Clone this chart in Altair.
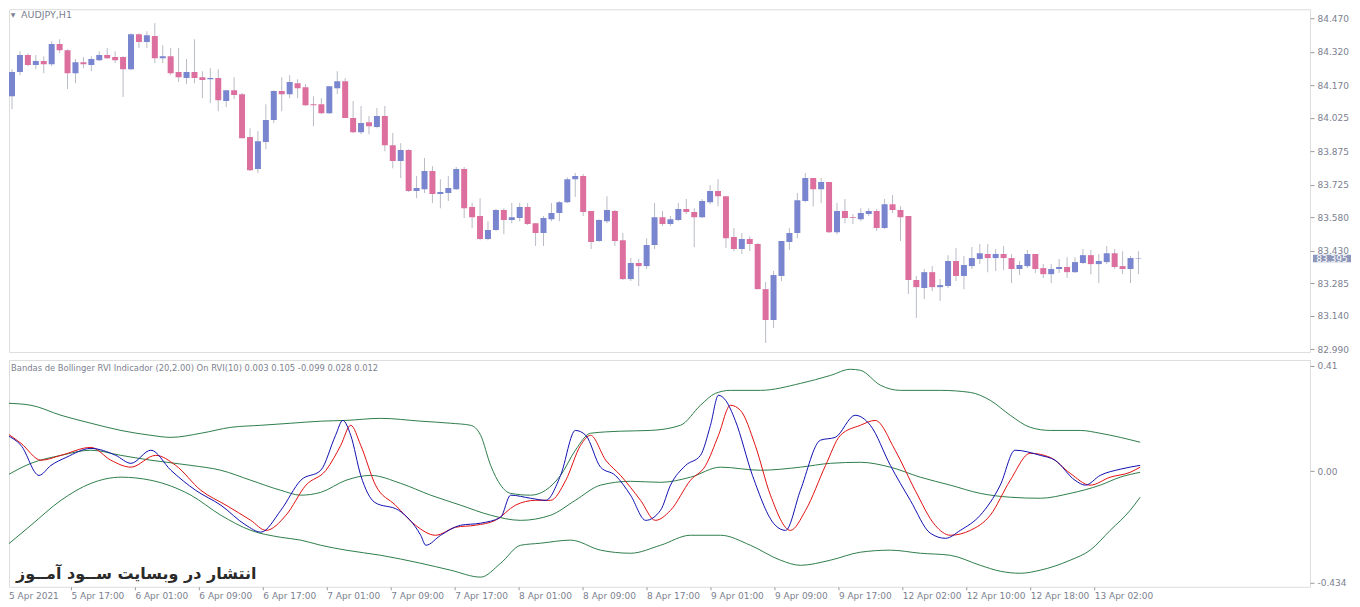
import json
import altair as alt
import pandas as pd

# ---------------- data ----------------
OPEN = [84.121,84.229,84.305,84.260,84.278,84.264,84.354,84.327,84.224,84.273,
        84.260,84.282,84.305,84.296,84.296,84.242,84.398,84.363,84.390,84.291,
        84.300,84.229,84.202,84.229,84.206,84.197,84.202,84.099,84.148,84.130,
        83.938,83.795,83.916,84.014,84.144,84.130,84.179,84.161,84.085,84.085,
        84.045,84.157,84.188,84.023,83.960,84.005,83.983,84.032,83.902,83.831,
        83.880,83.697,83.705,83.786,83.683,83.688,83.705,83.795,83.625,83.585,
        83.482,83.522,83.612,83.567,83.576,83.625,83.553,83.509,83.571,83.598,
        83.647,83.750,83.764,83.607,83.473,83.562,83.607,83.477,83.303,83.375,
        83.361,83.455,83.580,83.549,83.567,83.616,83.603,83.580,83.647,83.697,
        83.674,83.491,83.437,83.482,83.460,83.258,83.120,83.317,83.469,83.509,
        83.652,83.755,83.705,83.737,83.513,83.607,83.580,83.571,83.594,83.607,
        83.531,83.638,83.612,83.585,83.299,83.263,83.334,83.267,83.272,83.384,
        83.317,83.361,83.393,83.415,83.397,83.415,83.397,83.348,83.361,83.415,
        83.352,83.325,83.348,83.357,83.334,83.375,83.410,83.370,83.379,83.419,
        83.361,83.348,83.393]
CLOSE = [84.229,84.305,84.260,84.278,84.264,84.354,84.327,84.224,84.273,84.264,
         84.287,84.305,84.291,84.282,84.242,84.398,84.363,84.394,84.291,84.300,
         84.224,84.206,84.229,84.202,84.193,84.202,84.103,84.148,84.126,83.933,
         83.790,83.920,84.014,84.144,84.130,84.184,84.157,84.081,84.081,84.045,
         84.166,84.188,84.023,83.960,84.001,83.987,84.032,83.902,83.831,83.880,
         83.697,83.710,83.786,83.683,83.692,83.710,83.795,83.620,83.580,83.482,
         83.522,83.612,83.567,83.580,83.625,83.549,83.509,83.576,83.598,83.647,
         83.750,83.764,83.603,83.469,83.567,83.612,83.473,83.303,83.375,83.361,
         83.455,83.580,83.549,83.571,83.616,83.603,83.580,83.652,83.697,83.674,
         83.486,83.437,83.482,83.460,83.258,83.120,83.321,83.473,83.509,83.656,
         83.755,83.705,83.737,83.513,83.607,83.576,83.576,83.598,83.607,83.531,
         83.638,83.612,83.580,83.299,83.267,83.334,83.267,83.276,83.384,83.317,
         83.366,83.397,83.419,83.397,83.415,83.397,83.348,83.366,83.415,83.348,
         83.325,83.348,83.357,83.334,83.379,83.410,83.370,83.384,83.419,83.357,
         83.348,83.397,83.395]
HIGH = [84.242,84.322,84.313,84.305,84.300,84.367,84.376,84.331,84.287,84.296,
        84.300,84.322,84.336,84.322,84.300,84.403,84.403,84.412,84.448,84.349,
        84.336,84.336,84.287,84.376,84.233,84.246,84.242,84.148,84.206,84.135,
        83.978,83.965,84.085,84.148,84.206,84.215,84.197,84.175,84.121,84.112,
        84.166,84.233,84.202,84.099,84.077,84.032,84.068,84.077,83.956,83.911,
        83.884,83.764,83.844,83.808,83.750,83.764,83.804,83.804,83.643,83.665,
        83.562,83.616,83.620,83.643,83.643,83.643,83.553,83.585,83.643,83.652,
        83.759,83.777,83.773,83.607,83.571,83.674,83.612,83.509,83.397,83.393,
        83.486,83.643,83.607,83.585,83.643,83.661,83.620,83.661,83.723,83.750,
        83.674,83.531,83.509,83.495,83.464,83.290,83.339,83.473,83.531,83.688,
        83.777,83.755,83.755,83.737,83.643,83.661,83.594,83.620,83.620,83.616,
        83.661,83.679,83.629,83.585,83.317,83.348,83.361,83.303,83.410,83.442,
        83.406,83.446,83.460,83.460,83.437,83.451,83.415,83.384,83.433,83.415,
        83.370,83.370,83.393,83.401,83.401,83.437,83.433,83.415,83.451,83.437,
        83.428,83.406,83.428]
LOW = [84.063,84.215,84.255,84.242,84.224,84.255,84.313,84.153,84.179,84.246,
       84.233,84.278,84.287,84.269,84.117,84.237,84.336,84.336,84.269,84.269,
       84.215,84.184,84.175,84.179,84.112,84.090,84.054,84.072,84.108,83.933,
       83.786,83.777,83.884,84.001,84.054,84.112,84.112,84.077,83.987,84.041,
       84.041,84.130,84.023,83.956,83.951,83.951,83.978,83.875,83.799,83.755,
       83.692,83.665,83.688,83.643,83.620,83.652,83.701,83.576,83.531,83.477,
       83.477,83.518,83.504,83.553,83.562,83.545,83.451,83.451,83.562,83.562,
       83.643,83.670,83.585,83.437,83.469,83.553,83.451,83.299,83.294,83.272,
       83.348,83.437,83.540,83.540,83.562,83.594,83.446,83.576,83.638,83.629,
       83.442,83.428,83.415,83.428,83.258,83.017,83.084,83.294,83.433,83.486,
       83.647,83.629,83.643,83.509,83.504,83.553,83.549,83.562,83.585,83.518,
       83.527,83.598,83.473,83.236,83.129,83.214,83.249,83.205,83.263,83.294,
       83.258,83.348,83.370,83.334,83.339,83.343,83.285,83.321,83.352,83.330,
       83.308,83.285,83.330,83.308,83.330,83.370,83.325,83.285,83.370,83.348,
       83.325,83.285,83.325]

RVI_I = [0,1.75,4,5.5,7.4,10.5,13.6,15.5,18,20.5,23.6,26.75,29.9,31.75,34.25,36.75,39.25,41.1,42,43,
         44.25,46,49,51.75,52.4,54.25,56.75,59.25,61.75,63,65.5,67.4,69.25,71.1,72.4,74.25,76.1,78,79.9,81.75,
         83,84.9,86.75,88,89,89.9,91.1,93.25,96.1,97.4,99.25,101.75,103.6,106.1,108,110.5,113,115.5,117.4,119.25,
         121.75,124.25,126.1,129.25,131.1,133.6,134.9,136.75,139.25,141.75]
RVI_V = [0.140,0.101,-0.016,0.023,0.054,0.089,0.062,0.031,0.082,0.004,-0.074,-0.132,-0.210,-0.237,-0.152,-0.035,0.004,0.140,0.198,0.140,
         -0.016,-0.121,-0.152,-0.249,-0.288,-0.249,-0.210,-0.202,-0.179,-0.093,-0.105,-0.113,-0.016,0.159,0.140,0.016,-0.016,-0.093,-0.191,-0.152,
         -0.054,0.023,0.062,0.179,0.296,0.276,0.198,-0.016,-0.210,-0.230,-0.074,0.121,0.132,0.218,0.179,0.023,-0.113,-0.241,-0.261,-0.230,
         -0.171,-0.054,0.082,0.062,0.043,-0.035,-0.054,-0.016,0.008,0.023]
SIG_I = [0,1.75,4.25,6.75,10.5,13,15.5,18.6,21.1,24.25,27.4,30.5,32.4,34.9,37.4,39.9,41.75,43,44.25,46.1,
         48.6,51.1,53.6,56.1,58.6,61.1,63.6,66.1,68,69.9,71.75,73,74.9,76.75,79.25,81.1,83,85.5,87.4,89,
         90.5,91.75,93.6,95.5,98,99.9,102.4,104.25,106.75,108.6,111.1,113.6,116.1,118,120.5,123,125.5,128,130.5,133,
         135.5,138,140.5,141.75]
SIG_V = [0.148,0.109,0.043,0.062,0.093,0.043,0.016,0.062,0.023,-0.074,-0.132,-0.191,-0.230,-0.171,-0.054,0.004,0.101,0.179,0.101,-0.054,
         -0.132,-0.210,-0.249,-0.218,-0.210,-0.191,-0.132,-0.113,-0.113,-0.035,0.101,0.140,0.043,-0.016,-0.113,-0.191,-0.152,-0.035,0.023,0.140,
         0.257,0.237,0.101,-0.093,-0.230,-0.152,0.023,0.140,0.179,0.198,0.082,-0.074,-0.210,-0.249,-0.230,-0.171,-0.035,0.070,0.054,-0.008,
         -0.054,-0.023,-0.004,0.016]
UP_I = [0,3,6.75,10.5,14.25,18,20.5,24.25,28,31.75,35.5,39.25,42.4,46.75,51.75,55.5,58,59.25,60.5,61.75,
        63,65.5,69.25,71.1,73,76.75,80.5,84.25,86.75,88.6,90.5,94.25,99.25,103,105.5,106.75,109.25,111.75,116.75,120.5,
        123,125.5,128,130.5,134.25,136.75,139.25,141.75]
UP_V = [0.265,0.257,0.218,0.187,0.159,0.140,0.132,0.148,0.171,0.179,0.187,0.195,0.198,0.206,0.195,0.187,0.179,0.140,0.023,-0.054,
        -0.086,-0.093,-0.016,0.082,0.148,0.156,0.159,0.179,0.257,0.303,0.315,0.315,0.342,0.373,0.397,0.393,0.335,0.315,0.315,0.307,
        0.276,0.218,0.171,0.159,0.159,0.148,0.132,0.113]
MID_I = [0,3,6.75,10.5,14.25,18,23,26.75,30.5,34.25,36.75,39.25,42.4,45.5,49.25,53,56.75,60.5,64.25,68,
         71.1,74.25,78,81.75,85.5,89.25,94.25,99.25,103,106.75,110.5,114.25,118,121.75,125.5,129.25,133,136.75,139.25,141.75]
MID_V = [-0.016,0.031,0.062,0.082,0.062,0.043,0.023,0.004,-0.035,-0.074,-0.093,-0.082,-0.035,-0.016,-0.047,-0.093,-0.132,-0.171,-0.191,-0.171,
         -0.113,-0.054,-0.039,-0.043,-0.023,0.016,0.004,0.016,0.031,0.035,0.016,-0.023,-0.054,-0.086,-0.101,-0.105,-0.086,-0.054,-0.023,-0.004]
LOW_I = [0,3,6.75,10.5,14.25,18,23,26.75,30.5,34.25,36.75,39.25,42.4,46.75,51.75,55.5,59.25,61.75,64.25,66.75,
         70.5,74.25,78,81.75,85.5,89.25,93,96.75,99.25,103,106.75,110.5,114.25,118,121.75,124.25,126.75,129.25,133,135.5,
         138,140.5,141.75]
LOW_V = [-0.288,-0.210,-0.113,-0.047,-0.023,-0.035,-0.093,-0.171,-0.230,-0.257,-0.268,-0.288,-0.307,-0.327,-0.358,-0.385,-0.412,-0.358,-0.288,-0.280,
         -0.268,-0.307,-0.319,-0.288,-0.249,-0.249,-0.288,-0.346,-0.366,-0.346,-0.315,-0.307,-0.319,-0.327,-0.366,-0.389,-0.397,-0.385,-0.346,-0.307,
         -0.230,-0.152,-0.101]

PRICE_TICKS = [82.990, 83.140, 83.285, 83.430, 83.580, 83.725, 83.875, 84.025, 84.170, 84.320, 84.470]
RVI_TICKS = [-0.434, 0.0, 0.41]
RVI_TICK_LABELS = ["-0.434", "0.00", "0.41"]
X_TICKS = list(range(8, 137, 8))
X_LABELS = ["5 Apr 2021", "5 Apr 17:00", "6 Apr 01:00", "6 Apr 09:00", "6 Apr 17:00", "7 Apr 01:00",
            "7 Apr 09:00", "7 Apr 17:00", "8 Apr 01:00", "8 Apr 09:00", "8 Apr 17:00", "9 Apr 01:00",
            "9 Apr 09:00", "9 Apr 17:00", "12 Apr 02:00", "12 Apr 10:00", "12 Apr 18:00", "13 Apr 02:00"]
LAST_PRICE = 83.395
TITLE_TOP = "AUDJPY,H1"
TITLE_BOTTOM = "Bandas de Bollinger RVI Indicador (20,2.00) On RVI(10) 0.003 0.105 -0.099 0.028 0.012"
WATERMARK = "انتشار در وبسایت ســود آمــوز"

# ---------------- styling ----------------
W, H1, H2 = 1302, 343, 227
FONT = "DejaVu Sans"
TXT = "#7c7f90"
UPC, DNC = "#7985cf", "#dd6f9f"
WICK = "#b9bcc6"
XDOM = [0.25, 0.25 + W / 8]
YDOM1 = [82.977, 84.510]
YDOM2 = [-0.4496, 0.4333]

candles = pd.DataFrame({"i": list(range(len(OPEN))), "open": OPEN, "high": HIGH, "low": LOW, "close": CLOSE})
candles["dir"] = ["up" if c >= o else "down" for o, c in zip(OPEN, CLOSE)]

xs = alt.Scale(domain=XDOM, nice=False, zero=False)

base = alt.Chart(candles)
wicks = base.mark_bar(size=1, color=WICK, clip=True).encode(
    x=alt.X("i:Q", scale=xs, axis=None),
    y=alt.Y("low:Q", scale=alt.Scale(domain=YDOM1, nice=False, zero=False),
            axis=alt.Axis(orient="right", values=PRICE_TICKS, tickCount=len(PRICE_TICKS) + 2,
                          format=".3f", grid=False, domain=False,
                          tickColor="#9a9a9a", tickSize=4, labelColor=TXT, labelFont=FONT,
                          labelFontSize=9, labelPadding=3, labelOverlap=False, labelFlush=False,
                          title=None)),
    y2="high:Q",
)
bodies = base.mark_bar(size=6, clip=True).encode(
    x=alt.X("i:Q", scale=xs, axis=None),
    y="open:Q",
    y2="close:Q",
    color=alt.Color("dir:N", scale=alt.Scale(domain=["up", "down"], range=[UPC, DNC]), legend=None),
)
one = pd.DataFrame({"p": [LAST_PRICE], "t": [f"{LAST_PRICE:.3f}"]})
tag = alt.Chart(one).mark_point(shape="M-1,-0.2L1,-0.2L1,0.2L-1,0.2Z", size=1444, filled=True,
                                color="#8e97b9", opacity=1).encode(x=alt.value(W + 22), y="p:Q")
tagtxt = alt.Chart(one).mark_text(color="white", font=FONT, fontSize=9).encode(
    x=alt.value(W + 22), y="p:Q", text="t:N")
hdr1 = alt.Chart(pd.DataFrame({"t": [TITLE_TOP]})).mark_text(
    align="left", baseline="middle", font=FONT, fontSize=9.5, color=TXT).encode(
    x=alt.value(12), y=alt.value(5.5), text="t:N")
tri = alt.Chart(pd.DataFrame({"t": ["▼"]})).mark_text(
    align="center", baseline="middle", font=FONT, fontSize=6, color=TXT).encode(
    x=alt.value(4), y=alt.value(5.5), text="t:N")

top = alt.layer(wicks, bodies, tag, tagtxt, hdr1, tri).properties(width=W, height=H1)

# ---------------- lower panel ----------------
def series(ii, vv, name):
    return pd.DataFrame({"i": ii, "v": vv, "s": name})

bands = pd.concat([series(UP_I, UP_V, "upper"), series(MID_I, MID_V, "middle"), series(LOW_I, LOW_V, "lower")])
ys2 = alt.Scale(domain=YDOM2, nice=False, zero=False)
lab_expr = json.dumps(X_LABELS) + "[round(datum.value/8)]"
rvi_expr = ("datum.value > 0.2 ? '" + RVI_TICK_LABELS[2] + "' : datum.value < -0.2 ? '" +
            RVI_TICK_LABELS[0] + "' : '" + RVI_TICK_LABELS[1] + "'")
xaxis = alt.Axis(values=X_TICKS, tickCount=40, labelExpr=lab_expr, grid=False, domain=False,
                 tickColor="#9a9a9a", tickSize=3, labelAlign="left", labelColor=TXT, labelFont=FONT,
                 labelFontSize=9, labelPadding=2, labelOverlap=False, labelFlush=False, labelBound=False,
                 title=None)
yaxis2 = alt.Axis(orient="right", values=RVI_TICKS, tickCount=10, labelExpr=rvi_expr, grid=False, domain=False,
                  tickColor="#9a9a9a", tickSize=4, labelColor=TXT, labelFont=FONT, labelFontSize=9,
                  labelPadding=3, labelOverlap=False, labelFlush=False, title=None)

band_lines = alt.Chart(bands).mark_line(color="#2e7d4a", strokeWidth=1, interpolate="monotone", clip=True).encode(
    x=alt.X("i:Q", scale=xs, axis=xaxis),
    y=alt.Y("v:Q", scale=ys2, axis=yaxis2),
    detail="s:N",
)
sig_line = alt.Chart(series(SIG_I, SIG_V, "signal")).mark_line(
    color="#e01010", strokeWidth=1, interpolate="monotone", clip=True).encode(x="i:Q", y="v:Q")
rvi_line = alt.Chart(series(RVI_I, RVI_V, "rvi")).mark_line(
    color="#1010b0", strokeWidth=1, interpolate="monotone", clip=True).encode(x="i:Q", y="v:Q")
hdr2 = alt.Chart(pd.DataFrame({"t": [TITLE_BOTTOM]})).mark_text(
    align="left", baseline="middle", font=FONT, fontSize=8.4, color=TXT).encode(
    x=alt.value(2), y=alt.value(8), text="t:N")
wm = alt.Chart(pd.DataFrame({"t": [WATERMARK]})).mark_text(
    align="left", baseline="middle", font=FONT, fontSize=16, fontWeight="bold", color="#2a2a2a").encode(
    x=alt.value(7), y=alt.value(214), text="t:N")
first_lab = alt.Chart(pd.DataFrame({"t": [X_LABELS[0]]})).mark_text(
    align="left", baseline="top", font=FONT, fontSize=9, color=TXT).encode(
    x=alt.value(0), y=alt.value(H2 + 5), text="t:N")

bottom = alt.layer(band_lines, sig_line, rvi_line, hdr2, wm, first_lab).properties(width=W, height=H2)

chart = alt.vconcat(top, bottom, spacing=4).properties(
    padding={"left": 0, "top": 0, "right": 0, "bottom": 0}
).configure_view(stroke="#a3a3a3", strokeWidth=1).configure(background="white")

chart.save("out.html", embed_options={"renderer": "svg", "actions": False})
